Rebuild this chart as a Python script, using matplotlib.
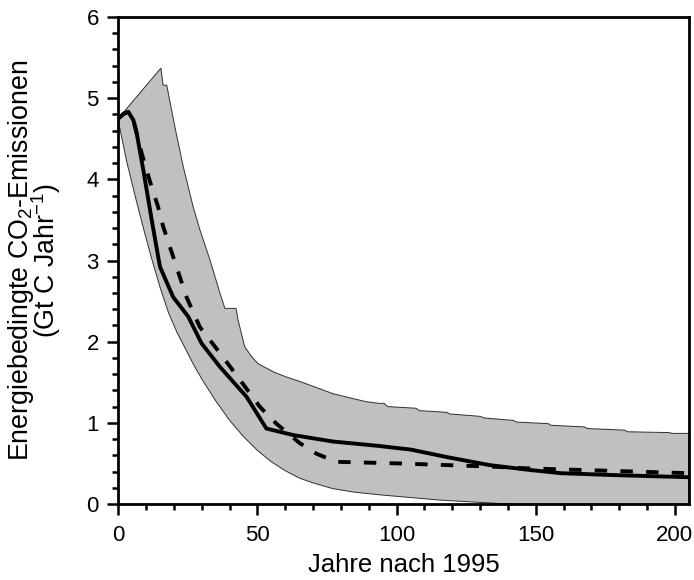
import numpy as np
import matplotlib
matplotlib.use("Agg")
import matplotlib.pyplot as plt

plt.rcParams['font.family'] = ['Liberation Sans', 'DejaVu Sans']
plt.rcParams['mathtext.fontset'] = 'custom'
plt.rcParams['mathtext.rm'] = 'Liberation Sans'
plt.rcParams['mathtext.it'] = 'Liberation Sans'
plt.rcParams['mathtext.default'] = 'regular'

# Upper edge of uncertainty band
upper_x = [0, 15.3, 16.1, 17.4, 20.3, 23.3, 26.9, 29.3, 32.9, 36.5, 38.3, 42.3, 43.0,
           45.4, 47.8, 50.2, 55.6, 60, 65.2, 70, 77.1, 83, 89.1, 93.8, 95.5, 96.8,
           107, 108.2, 118, 119, 130, 131.5, 142, 143, 154.5, 155.5, 167.5, 168.5,
           182, 183, 198, 199, 205]
upper_y = [4.75, 5.37, 5.16, 5.16, 4.65, 4.16, 3.66, 3.38, 3.01, 2.60, 2.41, 2.41, 2.27,
           1.94, 1.82, 1.73, 1.63, 1.57, 1.51, 1.45, 1.36, 1.31, 1.26, 1.24, 1.24, 1.20,
           1.18, 1.15, 1.13, 1.11, 1.08, 1.06, 1.03, 1.01, 0.99, 0.97, 0.95, 0.93,
           0.91, 0.89, 0.88, 0.87, 0.87]

# Lower edge of uncertainty band
lower_x = [0, 3, 6, 9, 12, 15, 18, 21, 24, 27, 30, 35, 40, 45, 50, 55, 60, 65, 70, 77,
           85, 95, 105, 115, 125, 135, 142, 205]
lower_y = [4.72, 4.22, 3.80, 3.40, 3.02, 2.67, 2.36, 2.12, 1.92, 1.72, 1.54, 1.27, 1.03,
           0.83, 0.66, 0.52, 0.41, 0.32, 0.26, 0.19, 0.145, 0.11, 0.08, 0.05, 0.03,
           0.01, 0.0, 0.0]

# Solid scenario line
solid_x = [0, 2, 3.6, 5.4, 6.6, 9, 12, 14.3, 15, 19.7, 25.1, 29.9, 36.5, 46.1, 53.2, 62.8,
           77.1, 93.8, 105.2, 117.8, 133.3, 147.7, 159, 177.5, 205]
solid_y = [4.75, 4.81, 4.83, 4.73, 4.57, 4.11, 3.50, 3.05, 2.92, 2.55, 2.31, 1.98, 1.69,
           1.32, 0.93, 0.85, 0.77, 0.715, 0.67, 0.58, 0.48, 0.42, 0.38, 0.357, 0.33]

# Dashed scenario line
dash_x = [0, 2, 3.6, 5.4, 8.4, 11.4, 14.3, 16.1, 24.5, 29.3, 36.5, 43.7, 50.8, 56.8, 65.2,
          71.2, 78.3, 101, 134.5, 146.5, 205]
dash_y = [4.75, 4.81, 4.83, 4.73, 4.32, 3.97, 3.66, 3.42, 2.55, 2.18, 1.86, 1.53, 1.20,
          0.99, 0.75, 0.62, 0.52, 0.50, 0.46, 0.44, 0.38]

x_ticks = [0, 50, 100, 150, 200]
y_ticks = [0, 1, 2, 3, 4, 5, 6]

fig = plt.figure(figsize=(6.94, 5.8), dpi=100)
ax = fig.add_axes([0.1705, 0.131, 0.822, 0.8397])

poly_x = list(upper_x) + list(lower_x[::-1])
poly_y = list(upper_y) + list(lower_y[::-1])
ax.fill(poly_x, poly_y, facecolor='#c0c0c0', edgecolor='#303030', linewidth=0.7, zorder=1)

ax.plot(dash_x, dash_y, color='black', linewidth=2.8, linestyle=(0, (3.2, 3.4)),
        dash_capstyle='butt', zorder=3)
ax.plot(solid_x, solid_y, color='black', linewidth=2.8, solid_capstyle='round',
        solid_joinstyle='round', zorder=4)

ax.set_xlim(0, 205)
ax.set_ylim(0, 6)
ax.set_xticks(x_ticks)
ax.set_yticks(y_ticks)
ax.set_xticks(np.arange(0, 206, 10), minor=True)
ax.set_yticks(np.arange(0, 6.01, 0.2), minor=True)
ax.tick_params(which='major', direction='out', length=8, width=1.8, labelsize=16, pad=6)
ax.tick_params(axis='x', which='major', pad=7)
ax.tick_params(which='minor', direction='out', length=4.5, width=1.8)
for s in ax.spines.values():
    s.set_linewidth(2.0)

ax.set_xlabel('Jahre nach 1995', fontsize=18.5, labelpad=5.5)
ax.set_ylabel('Energiebedingte CO$_2$-Emissionen\n(Gt C Jahr$^{-1}$)', fontsize=19.3,
              linespacing=0.75)
ax.yaxis.set_label_coords(-0.097, 0.5)

fig.savefig('out.png', dpi=100)
